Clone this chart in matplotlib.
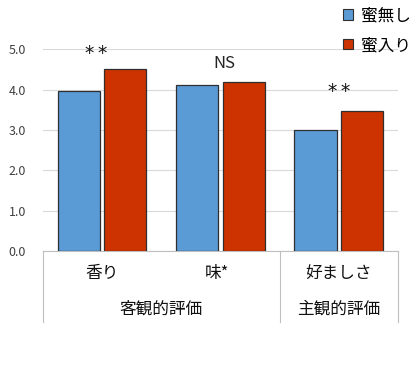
import matplotlib
matplotlib.use("Agg")
import matplotlib.pyplot as plt
from matplotlib.patches import Patch
import numpy as np

plt.rcParams['font.family'] = ['Noto Sans CJK JP', 'DejaVu Sans']

categories = ["香り", "味*", "好ましさ"]
groups = ["客観的評価", "主観的評価"]
group_spans = [(0, 2), (2, 3)]  # category index ranges
series_names = ["蜜無し", "蜜入り"]
no_honey = [3.96, 4.11, 2.99]
with_honey = [4.51, 4.20, 3.48]
sig_labels = ["*\u2009*", "NS", "*\u2009*"]
yticks = [0.0, 1.0, 2.0, 3.0, 4.0, 5.0]

blue = "#5B9BD5"
red = "#CC3300"
edge = "#2F2F2F"

fig = plt.figure(figsize=(4.2, 3.69), dpi=100)
ax = fig.add_axes([0.1017, 0.3198, 0.8459, 0.5461])

x = np.arange(len(categories))
w = 0.355
gap = 0.038
ax.bar(x - w / 2 - gap / 2, no_honey, w, color=blue, edgecolor=edge, linewidth=0.9, zorder=3)
ax.bar(x + w / 2 + gap / 2, with_honey, w, color=red, edgecolor=edge, linewidth=0.9, zorder=3)

ax.set_xlim(-0.5, len(categories) - 0.5)
ax.set_ylim(0, 5)
ax.set_yticks(yticks)
ax.set_yticklabels([f"{v:.1f}" for v in yticks], fontsize=9, color="#404040")
ax.tick_params(axis='y', length=0, pad=12)
ax.set_xticks([])
ax.yaxis.grid(True, color="#D9D9D9", linewidth=0.8, zorder=0)
for s in ["left", "right", "top"]:
    ax.spines[s].set_visible(False)
ax.spines["bottom"].set_color("#BFBFBF")
ax.spines["bottom"].set_linewidth(0.8)

# significance marks
ax.text(-0.05, 4.76, sig_labels[0], ha='center', va='baseline', fontsize=13.5,
        family='DejaVu Sans', color="#111111", clip_on=False)
ax.text(1.03, 4.66, sig_labels[1], ha='center', va='center', fontsize=12,
        color="#222222", clip_on=False)
ax.text(2.0, 3.81, sig_labels[2], ha='center', va='baseline', fontsize=13.5,
        family='DejaVu Sans', color="#111111", clip_on=False)

# hierarchical category axis
trans = ax.get_xaxis_transform()
bounds = [-0.5] + [e - 0.5 for (_, e) in group_spans]
for b in bounds:
    ax.plot([b, b], [0, -0.352], transform=trans, color="#BFBFBF", linewidth=0.8, clip_on=False)
cat_off = [0.0, -0.03, 0.0]
for i, c in enumerate(categories):
    ax.text(i + cat_off[i], -0.11, c, transform=trans, ha='center', va='center', fontsize=12, color="#111111")
for g, (s, e) in zip(groups, group_spans):
    ax.text((s - 0.5 + e - 0.5) / 2, -0.289, g, transform=trans,
            ha='center', va='center', fontsize=12, color="#111111")

handles = [Patch(facecolor=blue, edgecolor=edge, linewidth=0.8),
           Patch(facecolor=red, edgecolor=edge, linewidth=0.8)]
fig.legend(handles, series_names, loc='upper right', bbox_to_anchor=(0.995, 1.0),
           frameon=False, fontsize=12, handlelength=0.6, handleheight=0.6,
           handletextpad=0.45, labelspacing=0.75, borderaxespad=0.05)

fig.savefig("out.png", dpi=100, facecolor="white")
